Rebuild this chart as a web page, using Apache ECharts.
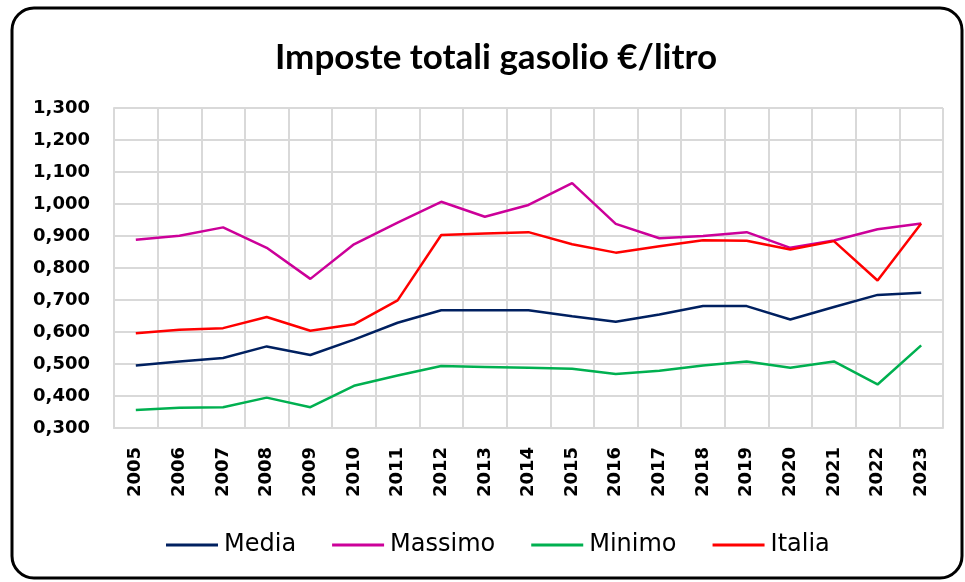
<!DOCTYPE html>
<html>
<head>
<meta charset="utf-8">
<script src="https://cdn.jsdelivr.net/npm/echarts@6/dist/echarts.min.js"></script>
<style>
  html, body { margin: 0; padding: 0; background: #fff; }
  #chart { width: 965px; height: 582px; }
</style>
</head>
<body>
<div id="chart"></div>
<script>
const years = ["2005", "2006", "2007", "2008", "2009", "2010", "2011", "2012", "2013", "2014",
  "2015", "2016", "2017", "2018", "2019", "2020", "2021", "2022", "2023"];
const media = [0.495, 0.508, 0.519, 0.555, 0.528, 0.576, 0.629, 0.668, 0.668, 0.668,
  0.649, 0.632, 0.655, 0.681, 0.681, 0.639, 0.678, 0.716, 0.723];
const massimo = [0.888, 0.901, 0.927, 0.863, 0.766, 0.874, 0.942, 1.007, 0.960, 0.997,
  1.065, 0.938, 0.893, 0.900, 0.912, 0.863, 0.886, 0.921, 0.939];
const minimo = [0.356, 0.363, 0.365, 0.395, 0.365, 0.432, 0.464, 0.494, 0.491, 0.488,
  0.485, 0.469, 0.479, 0.495, 0.508, 0.488, 0.508, 0.436, 0.558];
const italia = [0.596, 0.607, 0.612, 0.647, 0.604, 0.624, 0.699, 0.903, 0.908, 0.912,
  0.874, 0.848, 0.868, 0.887, 0.885, 0.858, 0.884, 0.761, 0.939];

const chart = echarts.init(document.getElementById("chart"));

function line(name, data, color) {
  return {
    name: name,
    type: "line",
    data: data,
    symbol: "none",
    lineStyle: { color: color, width: 2.5 },
    itemStyle: { color: color },
  };
}

chart.setOption({
  backgroundColor: "#fff",
  animation: false,
  title: {
    text: "Imposte totali gasolio €/litro",
    left: 270,
    top: 35,
    textStyle: { fontFamily: "Lato", fontWeight: "bold", fontSize: 35, color: "#000" },
  },
  graphic: [
    {
      type: "rect",
      shape: { x: 12, y: 8, width: 950, height: 570, r: 22 },
      style: { fill: "none", stroke: "#000", lineWidth: 3 },
      silent: true,
    },
  ],
  legend: {
    bottom: 20,
    left: 161,
    itemGap: 36,
    itemWidth: 52,
    itemHeight: 3,
    icon: "rect",
    textStyle: { fontFamily: "DejaVu Sans", fontSize: 24, color: "#000", padding: [0, 0, 0, 1] },
    data: ["Media", "Massimo", "Minimo", "Italia"],
  },
  grid: { left: 114, right: 22, top: 108, bottom: 154 },
  xAxis: {
    type: "category",
    data: years,
    boundaryGap: true,
    axisLine: { show: true, lineStyle: { color: "#d9d9d9", width: 2 } },
    axisTick: { show: false },
    splitLine: { show: true, lineStyle: { color: "#d9d9d9", width: 2 } },
    axisLabel: {
      rotate: 90,
      margin: 19,
      interval: 0,
      fontFamily: "DejaVu Sans",
      fontWeight: "bold",
      fontSize: 18,
      color: "#000",
    },
  },
  yAxis: {
    type: "value",
    min: 0.3,
    max: 1.3,
    interval: 0.1,
    axisLine: { show: true, lineStyle: { color: "#d9d9d9", width: 2 } },
    axisTick: { show: false },
    splitLine: { show: true, lineStyle: { color: "#d9d9d9", width: 2 } },
    axisLabel: {
      margin: 24,
      fontFamily: "DejaVu Sans",
      fontWeight: "bold",
      fontSize: 18,
      color: "#000",
      formatter: (v) => v.toFixed(3).replace(".", ","),
    },
  },
  series: [
    line("Media", media, "#002060"),
    line("Massimo", massimo, "#cc0099"),
    line("Minimo", minimo, "#00b050"),
    line("Italia", italia, "#ff0000"),
  ],
});
</script>
</body>
</html>
